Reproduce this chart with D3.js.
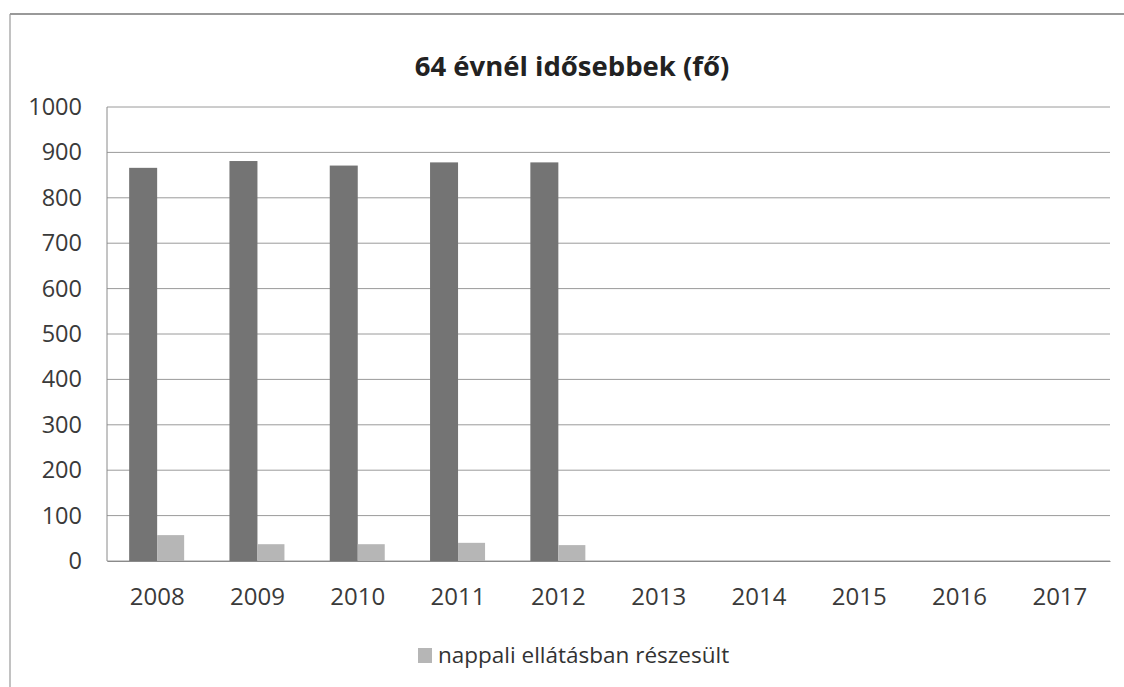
<!DOCTYPE html>
<html>
<head>
<meta charset="utf-8">
<script src="https://cdn.jsdelivr.net/npm/d3@7"></script>
<style>
	body { margin: 0; background: #fff; }
	svg, svg text { font-family: "Open Sans", "Liberation Sans", sans-serif; }
</style>
</head>
<body>
<svg id="chart" width="1124" height="687"></svg>
<script>
var years = ["2008", "2009", "2010", "2011", "2012", "2013", "2014", "2015", "2016", "2017"];
// 64 evnel idosebbek osszesen (no legend entry visible)
var totalValues = [866, 881, 871, 878, 878, null, null, null, null, null];
var nappaliValues = [57, 37, 37, 40, 35, null, null, null, null, null];
var yTicks = [0, 100, 200, 300, 400, 500, 600, 700, 800, 900, 1000];

var svg = d3.select("#chart");
var plotLeft = 107, plotRight = 1110, plotTop = 107, plotBottom = 561;

// frame of the chart area
svg.append("line").attr("x1", 10).attr("y1", 14).attr("x2", 1124).attr("y2", 14)
	.attr("stroke", "#777").attr("stroke-width", 1.5);
svg.append("line").attr("x1", 10).attr("y1", 14).attr("x2", 10).attr("y2", 687)
	.attr("stroke", "#999").attr("stroke-width", 1.2);

var x = d3.scaleBand().domain(years).range([plotLeft, plotRight]);
var y = d3.scaleLinear().domain([0, 1000]).range([plotBottom, plotTop]);

// gridlines
svg.append("g").selectAll("line").data(yTicks).enter().append("line")
	.attr("x1", plotLeft).attr("x2", plotRight)
	.attr("y1", function(d){ return y(d); })
	.attr("y2", function(d){ return y(d); })
	.attr("stroke", "#9a9a9a").attr("stroke-width", 1);

svg.append("line").attr("x1", plotLeft).attr("x2", plotLeft).attr("y1", plotTop).attr("y2", plotBottom)
	.attr("stroke", "#8a8a8a").attr("stroke-width", 1);

var barW = 28;
svg.append("g").selectAll("rect").data(years).enter()
	.filter(function(d, i){ return totalValues[i] != null; })
	.append("rect")
	.attr("x", function(d){ return x(d) + x.bandwidth()/2 - barW; })
	.attr("y", function(d){ return y(totalValues[years.indexOf(d)]); })
	.attr("width", barW)
	.attr("height", function(d){ return plotBottom - y(totalValues[years.indexOf(d)]); })
	.attr("fill", "#747474");

svg.append("g").selectAll("rect").data(years).enter()
	.filter(function(d, i){ return nappaliValues[i] != null; })
	.append("rect")
	.attr("x", function(d){ return x(d) + x.bandwidth()/2; })
	.attr("y", function(d){ return y(nappaliValues[years.indexOf(d)]); })
	.attr("width", barW - 1)
	.attr("height", function(d){ return plotBottom - y(nappaliValues[years.indexOf(d)]); })
	.attr("fill", "#b6b6b6");

// axes
var yAxis = d3.axisLeft(y).tickValues(yTicks).tickFormat(d3.format("d")).tickSize(0).tickPadding(25);
var gy = svg.append("g").attr("transform", "translate(" + plotLeft + ",0)").call(yAxis)
	.attr("font-family", null).attr("font-size", null);
gy.select(".domain").remove();
gy.selectAll("text").attr("font-size", 23.5).attr("fill", "#3a3a3a");

var xAxis = d3.axisBottom(x).tickSize(0).tickPadding(27);
var gx = svg.append("g").attr("transform", "translate(0," + plotBottom + ")").call(xAxis)
	.attr("font-family", null).attr("font-size", null);
gx.select(".domain").attr("stroke", "#8a8a8a");
gx.selectAll("text").attr("font-size", 24).attr("fill", "#3a3a3a");

svg.append("text").attr("x", 572).attr("y", 76).attr("text-anchor", "middle")
	.attr("font-size", 27.5).attr("font-weight", "bold").attr("fill", "#222")
	.text("64 évnél idősebbek (fő)");

// legend
svg.append("rect").attr("x", 418).attr("y", 648).attr("width", 14).attr("height", 15).attr("fill", "#b6b6b6");
svg.append("text").attr("x", 438).attr("y", 663).attr("font-size", 22.5).attr("fill", "#333")
	.text("nappali ellátásban részesült");
</script>
</body>
</html>
